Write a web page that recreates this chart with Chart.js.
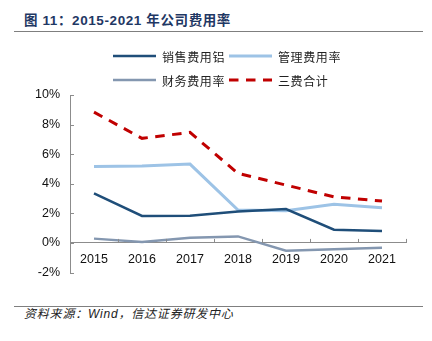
<!DOCTYPE html>
<html>
<head>
<meta charset="utf-8">
<script src="https://cdn.jsdelivr.net/npm/chart.js@4.4.1/dist/chart.umd.min.js"></script>
<style>
  body { margin: 0; width: 432px; height: 341px; background: #fff; position: relative; overflow: hidden; }
  #title { position: absolute; left: 24px; top: 12px; font-family: "Liberation Sans", "Noto Sans CJK SC", sans-serif; font-size: 13.5px; font-weight: bold; color: #1f3864; line-height: 18px; white-space: nowrap; letter-spacing: 0.6px; }
  .rule { position: absolute; left: 14px; width: 409px; height: 0; border-top: 1.5px solid #7f7f7f; }
  #source { position: absolute; left: 24px; top: 306px; font-family: "Liberation Sans", "Noto Sans CJK SC", sans-serif; font-size: 12px; font-style: italic; color: #222; line-height: 17px; white-space: nowrap; letter-spacing: 0.8px; }
  #wrap { position: absolute; left: 0; top: 40px; width: 432px; height: 250px; }
</style>
</head>
<body>
<div id="title">图 11：2015-2021 年公司费用率</div>
<div class="rule" style="top:31px"></div>
<div id="wrap"><canvas id="expenseChart"></canvas></div>
<div class="rule" style="top:306px"></div>
<div id="source">资料来源：Wind，信达证券研发中心</div>

<script>
const years = ['2015', '2016', '2017', '2018', '2019', '2020', '2021'];
const salesRate = [3.35, 1.82, 1.83, 2.13, 2.29, 0.89, 0.80];
const adminRate = [5.17, 5.20, 5.33, 2.22, 2.18, 2.62, 2.37];
const financeRate = [0.29, 0.07, 0.35, 0.44, -0.53, -0.43, -0.33];
const totalRate = [8.84, 7.07, 7.47, 4.70, 3.91, 3.11, 2.83];
const seriesNames = ['销售费用铝', '管理费用率', '财务费用率', '三费合计'];

// two-by-two legend drawn with each dataset's own line style
const gridLegend = {
    id: 'gridLegend',
    afterDraw(chart, args, opts) {
        const ctx = chart.ctx;
        chart.data.datasets.forEach((ds, i) => {
            const x = opts.cols[i % 2];
            const y = opts.rows[Math.floor(i / 2)];
            ctx.save();
            ctx.strokeStyle = ds.borderColor;
            ctx.lineWidth = ds.borderWidth;
            ctx.setLineDash(ds.borderDash || []);
            ctx.beginPath();
            ctx.moveTo(x, y);
            ctx.lineTo(x + opts.sample, y);
            ctx.stroke();
            ctx.fillStyle = '#222';
            ctx.font = opts.font;
            ctx.letterSpacing = '0.6px';
            ctx.textBaseline = 'middle';
            ctx.fillText(ds.label, x + opts.sample + 6, y + 1);
            ctx.restore();
        });
    }
};

// short tick marks pointing into the plot
const innerTicks = {
    id: 'innerTicks',
    afterDatasetsDraw(chart) {
        const ctx = chart.ctx;
        const xs = chart.scales.x, ys = chart.scales.y;
        const y0 = ys.getPixelForValue(0);
        ctx.save();
        ctx.strokeStyle = '#8c8c8c';
        ctx.lineWidth = 1;
        ctx.beginPath();
        for (let i = 0; i <= years.length; i++) {
            const px = Math.round(xs.getPixelForValue(i - 0.5)) + 0.5;
            ctx.moveTo(px, y0);
            ctx.lineTo(px, y0 - 4);
        }
        ys.ticks.forEach(t => {
            const py = Math.round(ys.getPixelForValue(t.value)) + 0.5;
            ctx.moveTo(chart.chartArea.left, py);
            ctx.lineTo(chart.chartArea.left + 4, py);
        });
        ctx.stroke();
        ctx.restore();
    }
};

const ctx = document.getElementById('expenseChart').getContext('2d');
new Chart(ctx, {
    type: 'line',
    data: {
        labels: years,
        datasets: [
            { label: seriesNames[0], data: salesRate, borderColor: '#1f4e79', borderWidth: 2.5 },
            { label: seriesNames[1], data: adminRate, borderColor: '#9dc3e6', borderWidth: 3 },
            { label: seriesNames[2], data: financeRate, borderColor: '#8497b0', borderWidth: 2.5 },
            { label: seriesNames[3], data: totalRate, borderColor: '#c00000', borderWidth: 3, borderDash: [9.5, 7.5] }
        ]
    },
    options: {
        responsive: true,
        maintainAspectRatio: false,
        animation: false,
        elements: { point: { radius: 0 }, line: { tension: 0, fill: false } },
        layout: { padding: { top: 55, right: 26, bottom: 16, left: 0 } },
        plugins: {
            legend: { display: false },
            tooltip: { enabled: false },
            gridLegend: {
                cols: [113, 229],
                rows: [16, 40],
                sample: 43,
                font: '12px "Noto Sans CJK SC"'
            }
        },
        scales: {
            x: {
                position: { y: 0 },
                offset: true,
                grid: { display: true, drawOnChartArea: false, drawTicks: false },
                border: { display: true, color: '#8c8c8c', width: 1 },
                ticks: { color: '#111', padding: 9, font: { family: 'Liberation Sans', size: 12.5 } }
            },
            y: {
                min: -2,
                max: 10,
                afterFit: s => { s.width = 70; },
                grid: { display: true, drawOnChartArea: false, drawTicks: false },
                border: { display: true, color: '#8c8c8c', width: 1 },
                ticks: {
                    stepSize: 2,
                    color: '#111',
                    padding: 10,
                    font: { family: 'Liberation Sans', size: 12.5 },
                    callback: v => v + '%'
                }
            }
        }
    },
    plugins: [gridLegend, innerTicks]
});
</script>
</body>
</html>
